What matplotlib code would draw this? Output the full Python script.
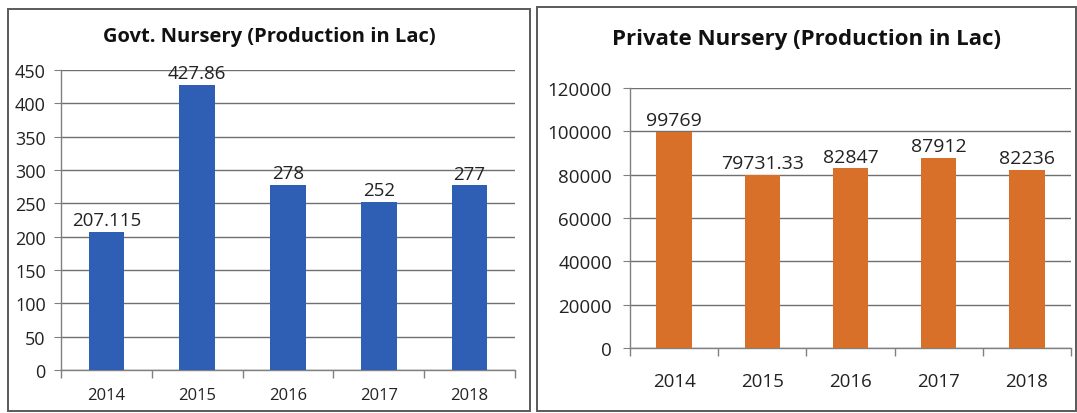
import matplotlib
matplotlib.use("Agg")
import matplotlib.pyplot as plt
from matplotlib.patches import Rectangle

years = ["2014", "2015", "2016", "2017", "2018"]
govt_values = [207.115, 427.86, 278, 252, 277]
govt_labels = ["207.115", "427.86", "278", "252", "277"]
private_values = [99769, 79731.33, 82847, 87912, 82236]
private_labels = ["99769", "79731.33", "82847", "87912", "82236"]

plt.rcParams["font.family"] = ["Open Sans", "DejaVu Sans"]

W, H = 1077, 414
fig = plt.figure(figsize=(W / 100, H / 100), dpi=100)
fig.patch.set_facecolor("white")


def px_axes(x0, y0, x1, y1):
    return fig.add_axes([x0 / W, 1 - y1 / H, (x1 - x0) / W, (y1 - y0) / H])


def panel(x0, y0, x1, y1):
    fig.patches.append(Rectangle((x0 / W, 1 - y1 / H), (x1 - x0) / W, (y1 - y0) / H,
                                 transform=fig.transFigure, fill=False,
                                 edgecolor="#5a5a5a", linewidth=1.4))


def style(ax, ymax, step, tick_fs, ypad, xfs, xpad):
    ax.set_xlim(-0.5, len(years) - 0.5)
    ax.set_ylim(0, ymax)
    ax.set_yticks(range(0, ymax + 1, step))
    ax.tick_params(axis="y", labelsize=tick_fs, length=5, color="#808080",
                   colors="#222222", pad=ypad)
    ax.set_xticks(range(len(years)))
    ax.set_xticklabels(years)
    ax.tick_params(axis="x", which="major", length=0, labelsize=xfs,
                   colors="#222222", pad=xpad)
    ax.set_xticks([i - 0.5 for i in range(len(years) + 1)], minor=True)
    ax.tick_params(axis="x", which="minor", length=6, color="#808080", width=1)
    ax.grid(axis="y", color="#707070", linewidth=1.0)
    ax.set_axisbelow(True)
    for s in ("top", "right"):
        ax.spines[s].set_visible(False)
    for s in ("left", "bottom"):
        ax.spines[s].set_color("#808080")
        ax.spines[s].set_linewidth(1.0)


# Govt. nursery panel
panel(8, 10, 530, 412)
ax1 = px_axes(61, 71, 515, 371)
bars1 = ax1.bar(range(len(years)), govt_values, width=0.39, color="#2e5fb4", zorder=3)
style(ax1, 450, 50, 13, 6, 12, 12)
for b, lab in zip(bars1, govt_labels):
    ax1.annotate(lab, (b.get_x() + b.get_width() / 2, b.get_height()),
                 xytext=(0, 2), textcoords="offset points",
                 ha="center", va="bottom", fontsize=13.5, color="#222222", zorder=4)
fig.text((8 + 530) / 2 / W, 1 - 37 / H, "Govt. Nursery (Production in Lac)",
         ha="center", va="center", fontsize=14.5, fontweight="bold", color="#111111")

# Private nursery panel
panel(537, 8, 1076, 412)
ax2 = px_axes(630, 89, 1071, 349)
bars2 = ax2.bar(range(len(years)), private_values, width=0.4, color="#d9702a", zorder=3)
style(ax2, 120000, 20000, 13.5, 8, 13.5, 17)
for b, lab in zip(bars2, private_labels):
    ax2.annotate(lab, (b.get_x() + b.get_width() / 2, b.get_height()),
                 xytext=(0, 2), textcoords="offset points",
                 ha="center", va="bottom", fontsize=14, color="#222222", zorder=4)
fig.text((537 + 1076) / 2 / W, 1 - 40 / H, "Private Nursery (Production in Lac)",
         ha="center", va="center", fontsize=16, fontweight="bold", color="#111111")

fig.savefig("out.png", dpi=100, facecolor="white")
